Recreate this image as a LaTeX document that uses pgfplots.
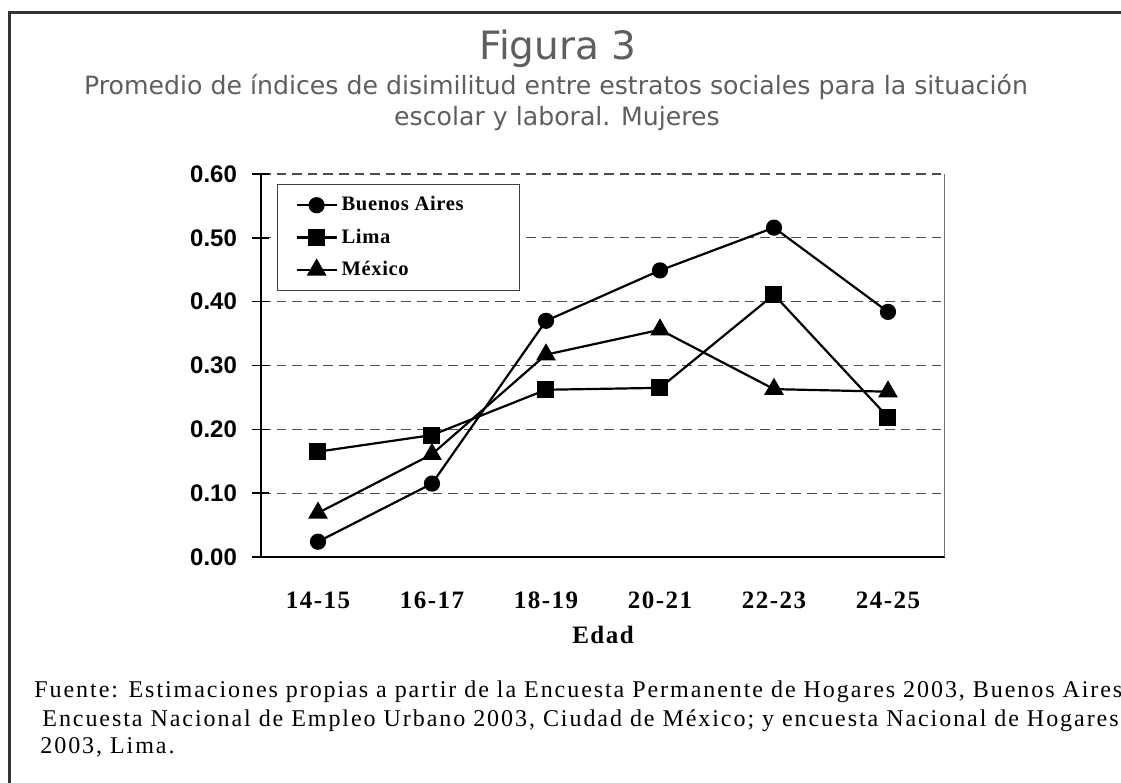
\documentclass[border=0pt]{standalone}
\usepackage{fontspec}
\usepackage{pgfplots}
\pgfplotsset{compat=1.18}
\setmainfont{Liberation Serif}
\newfontfamily\titlefont{DejaVu Sans}
\newfontfamily\arialfont{Liberation Sans}
\newfontfamily\xfont[LetterSpace=6]{Liberation Serif}
\newfontfamily\legfont[LetterSpace=3]{Liberation Serif}
\newfontfamily\footfont[LetterSpace=8]{Liberation Serif}
\definecolor{titlegray}{HTML}{5E5E5E}
\begin{document}
\begin{tikzpicture}
\begin{scope}[x=0.5pt,y=0.5pt,shift={(-261,-226)}]
\useasboundingbox (0,0) rectangle (1121,783);
\clip (0,0) rectangle (1121,783);
\draw[line width=1.5pt,color=black!80] (10,770) rectangle (1200,-100);
\node[anchor=base,text=titlegray,font=\titlefont\fontsize{19.5}{22}\selectfont] at (558,723) {Figura 3};
\node[anchor=base,text=titlegray,font=\titlefont\fontsize{12.6}{14}\selectfont] at (556,689) {Promedio de índices de disimilitud entre estratos sociales para la situación};
\node[anchor=base,text=titlegray,font=\titlefont\fontsize{12.6}{14}\selectfont] at (557,657) {escolar y laboral. Mujeres};
\node[anchor=base west,inner sep=0pt,font=\footfont\fontsize{12.02}{14}\selectfont] at (34,86) {Fuente: Estimaciones propias a partir de la Encuesta Permanente de Hogares 2003, Buenos Aires;};
\node[anchor=base west,inner sep=0pt,font=\footfont\fontsize{12.02}{14}\selectfont] at (42,57) {Encuesta Nacional de Empleo Urbano 2003, Ciudad de México; y encuesta Nacional de Hogares};
\node[anchor=base west,inner sep=0pt,font=\footfont\fontsize{12.02}{14}\selectfont] at (40,30) {2003, Lima.};
\end{scope}
\begin{axis}[
  scale only axis, width=342pt, height=191.5pt,
  xmin=-0.5, xmax=5.5, ymin=0, ymax=0.6,
  axis x line*=bottom, axis y line*=left,
  axis line style={line width=0.8pt, black},
  xtick={0,1,2,3,4,5},
  xticklabels={14-15,16-17,18-19,20-21,22-23,24-25},
  xtick style={draw=none},
  minor xtick={-0.5,0.5,1.5,2.5,3.5,4.5,5.5},
  minor tick length=3.5pt,
  minor x tick style={black,line width=0.8pt},
  tick align=outside,
  ytick={0,0.1,0.2,0.3,0.4,0.5,0.6},
  major tick length=8.5pt,
  ytick style={black,line width=0.8pt,xshift=4.25pt},
  yticklabel style={font=\arialfont\bfseries\fontsize{12}{12}\selectfont,
    /pgf/number format/.cd, fixed, fixed zerofill, precision=2, assume math mode=true},
  xticklabel style={font=\xfont\bfseries\fontsize{12.5}{14}\selectfont, yshift=-5.5pt},
  ymajorgrids,
  grid style={dash pattern=on 4.8pt off 3pt, line width=0.6pt, black!70},
  xlabel={Edad},
  xlabel style={font=\xfont\bfseries\fontsize{12.5}{14}\selectfont, at={(axis description cs:0.5,0)}, anchor=base, yshift=-43pt},
  legend cell align=left,
  legend style={at={(0.0234,0.974)}, anchor=north west, draw=black!75, line width=0.6pt,
    font=\legfont\bfseries\fontsize{10.3}{12}\selectfont, row sep=3.5pt, inner xsep=9pt, inner ysep=4pt},
  legend image code/.code={\draw[mark repeat=2,mark phase=2] plot coordinates {(0cm,0cm) (0.35cm,0cm) (0.7cm,0cm)};},
]
\addplot[black, line width=1.1pt, mark=*, mark size=3.5pt, mark options={solid, fill=black}] coordinates {(0,0.024) (1,0.115) (2,0.370) (3,0.449) (4,0.516) (5,0.384)};
\addlegendentry{\makebox[78pt][l]{Buenos Aires}}
\addplot[black, line width=1.1pt, mark=square*, mark size=3.7pt, mark options={solid, fill=black}] coordinates {(0,0.165) (1,0.191) (2,0.262) (3,0.265) (4,0.411) (5,0.219)};
\addlegendentry{\makebox[78pt][l]{Lima}}
\addplot[black, line width=1.1pt, mark=triangle*, mark size=4.6pt, mark options={solid, fill=black}] coordinates {(0,0.069) (1,0.161) (2,0.317) (3,0.356) (4,0.263) (5,0.259)};
\addlegendentry{\makebox[78pt][l]{México}}
\draw[black!55, line width=0.8pt] (rel axis cs:1,0) -- (rel axis cs:1,1);
\end{axis}
\end{tikzpicture}
\end{document}
